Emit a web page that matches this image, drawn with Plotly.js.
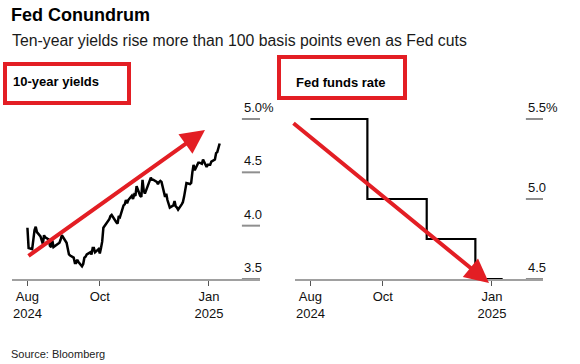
<!DOCTYPE html>
<html>
<head>
<meta charset="utf-8">
<script src="https://cdn.plot.ly/plotly-3.0.1.min.js"></script>
<style>html,body{margin:0;padding:0;background:#fff}#chart{width:580px;height:364px}</style>
</head>
<body>
<div id="chart"></div>
<script>
// ---- Data ----
const yieldDates = ['2024-08-01','2024-08-02','2024-08-05','2024-08-06','2024-08-07','2024-08-08','2024-08-09','2024-08-12','2024-08-13','2024-08-14','2024-08-15','2024-08-16','2024-08-19','2024-08-20','2024-08-21','2024-08-22','2024-08-23','2024-08-26','2024-08-27','2024-08-28','2024-08-29','2024-08-30','2024-09-03','2024-09-04','2024-09-05','2024-09-06','2024-09-09','2024-09-10','2024-09-11','2024-09-12','2024-09-13','2024-09-16','2024-09-17','2024-09-18','2024-09-19','2024-09-20','2024-09-23','2024-09-24','2024-09-25','2024-09-26','2024-09-27','2024-09-30','2024-10-01','2024-10-02','2024-10-03','2024-10-04','2024-10-07','2024-10-08','2024-10-09','2024-10-10','2024-10-11','2024-10-15','2024-10-16','2024-10-17','2024-10-18','2024-10-21','2024-10-22','2024-10-23','2024-10-24','2024-10-25','2024-10-28','2024-10-29','2024-10-30','2024-10-31','2024-11-01','2024-11-04','2024-11-05','2024-11-06','2024-11-07','2024-11-08','2024-11-12','2024-11-13','2024-11-14','2024-11-15','2024-11-18','2024-11-19','2024-11-20','2024-11-21','2024-11-22','2024-11-25','2024-11-26','2024-11-27','2024-11-29','2024-12-02','2024-12-03','2024-12-04','2024-12-05','2024-12-06','2024-12-09','2024-12-10','2024-12-11','2024-12-12','2024-12-13','2024-12-16','2024-12-17','2024-12-18','2024-12-19','2024-12-20','2024-12-23','2024-12-24','2024-12-26','2024-12-27','2024-12-30','2024-12-31','2025-01-02','2025-01-03','2025-01-06','2025-01-07','2025-01-08','2025-01-10'];
const yieldValues = [3.98,3.79,3.78,3.90,3.96,3.99,3.94,3.90,3.85,3.83,3.91,3.89,3.87,3.81,3.80,3.86,3.80,3.82,3.83,3.84,3.87,3.91,3.84,3.77,3.73,3.72,3.70,3.65,3.65,3.68,3.66,3.62,3.64,3.70,3.71,3.73,3.75,3.73,3.79,3.79,3.75,3.78,3.74,3.79,3.85,3.98,4.03,4.04,4.06,4.09,4.10,4.03,4.02,4.09,4.08,4.19,4.20,4.24,4.21,4.24,4.28,4.25,4.29,4.28,4.37,4.28,4.27,4.43,4.33,4.30,4.43,4.45,4.43,4.43,4.41,4.39,4.41,4.42,4.41,4.27,4.30,4.24,4.17,4.19,4.23,4.18,4.17,4.15,4.20,4.22,4.27,4.32,4.40,4.39,4.40,4.50,4.57,4.52,4.59,4.59,4.58,4.62,4.55,4.57,4.57,4.60,4.62,4.68,4.69,4.77];

const fedDates = ['2024-08-01','2024-09-18','2024-11-07','2024-12-18','2025-01-10'];
const fedValues = [5.5, 5.0, 4.75, 4.5, 4.5];

const xTickVals = ['2024-08-01','2024-10-01','2025-01-01'];
const xTickText = ['Aug<br>2024','Oct','Jan<br>2025'];

const leftTickVals = [3.5, 4.0, 4.5, 5.0];
const leftTickText = ['3.5','4.0','4.5','5.0%'];
const rightTickVals = [4.5, 5.0, 5.5];
const rightTickText = ['4.5','5.0','5.5%'];

const titleText = 'Fed Conundrum';
const subtitleText = 'Ten-year yields rise more than 100 basis points even as Fed cuts';
const leftPanelTitle = '10-year yields';
const rightPanelTitle = 'Fed funds rate';
const sourceText = 'Source: Bloomberg';

// ---- Layout helpers ----
const W = 580, H = 364;
const px = v => v / W;
const py = v => 1 - v / H;
const FONT = 'Liberation Sans, Arial, Helvetica, sans-serif';
const RED = '#e31e24';
const GRID = '#8f8f8f';

const xRange = ['2024-07-19','2025-02-13'];
const yDomain = [py(279), py(105)];

const commonX = {
  type: 'date', range: xRange, showgrid: false, zeroline: false,
  showline: true, linecolor: '#a0a0a0', linewidth: 1.5,
  ticks: 'outside', ticklen: 5, tickwidth: 1, tickcolor: '#555',
  tickvals: xTickVals, ticktext: xTickText,
  tickfont: {family: FONT, size: 13, color: '#111'},
  fixedrange: true
};
const commonY = {showgrid: false, zeroline: false, showline: false, showticklabels: false, ticks: '', fixedrange: true, domain: yDomain};

const traces = [
  {x: yieldDates, y: yieldValues, type: 'scatter', mode: 'lines', xaxis: 'x', yaxis: 'y',
   line: {color: '#000', width: 2.5}, hoverinfo: 'skip'},
  {x: fedDates, y: fedValues, type: 'scatter', mode: 'lines', xaxis: 'x2', yaxis: 'y2',
   line: {color: '#000', width: 2.2, shape: 'hv'}, hoverinfo: 'skip'}
];

const shapes = [];
const annotations = [];

// gridline stubs + labels
function addTicks(vals, texts, xr, yr, x0) {
  vals.forEach((v, i) => {
    shapes.push({type: 'line', xref: xr + ' domain', yref: yr, x0: x0, x1: 1, y0: v, y1: v,
      line: {color: GRID, width: 2}});
    annotations.push({xref: xr + ' domain', yref: yr, x: x0, y: v, xanchor: 'left', yanchor: 'bottom',
      yshift: 2, showarrow: false, text: texts[i], font: {family: FONT, size: 13, color: '#111'}});
  });
}
addTicks(leftTickVals, leftTickText, 'x', 'y', 0.927);
addTicks(rightTickVals, rightTickText, 'x2', 'y2', 0.931);

// red boxes
shapes.push({type: 'rect', xref: 'paper', yref: 'paper', x0: px(5), x1: px(129), y0: py(103), y1: py(64),
  line: {color: RED, width: 4}});
shapes.push({type: 'rect', xref: 'paper', yref: 'paper', x0: px(279), x1: px(405), y0: py(98), y1: py(57),
  line: {color: RED, width: 4}});

// panel titles
annotations.push({xref: 'paper', yref: 'paper', x: px(11), y: py(82), xanchor: 'left', yanchor: 'middle',
  showarrow: false, text: '<b>' + leftPanelTitle + '</b>', font: {family: FONT, size: 13, color: '#000'}});
annotations.push({xref: 'paper', yref: 'paper', x: px(294), y: py(83), xanchor: 'left', yanchor: 'middle',
  showarrow: false, text: '<b>' + rightPanelTitle + '</b>', font: {family: FONT, size: 13, color: '#000'}});

// subtitle & source
annotations.push({xref: 'paper', yref: 'paper', x: px(10), y: py(40), xanchor: 'left', yanchor: 'middle',
  showarrow: false, text: subtitleText, font: {family: FONT, size: 15.8, color: '#1a1a1a'}});
annotations.push({xref: 'paper', yref: 'paper', x: px(9), y: py(354), xanchor: 'left', yanchor: 'middle',
  showarrow: false, text: sourceText, font: {family: FONT, size: 11, color: '#222'}});

// red arrows
annotations.push({xref: 'paper', yref: 'paper', x: px(205), y: py(130), ax: 27 - 205, ay: 257 - 130,
  text: '', showarrow: true, arrowhead: 2, arrowsize: 1.2, arrowwidth: 4, arrowcolor: RED, standoff: 0});
annotations.push({xref: 'paper', yref: 'paper', x: px(489), y: py(283), ax: 292 - 489, ay: 122 - 283,
  text: '', showarrow: true, arrowhead: 2, arrowsize: 1.2, arrowwidth: 4, arrowcolor: RED, standoff: 0});

const layout = {
  width: W, height: H,
  margin: {l: 0, r: 0, t: 0, b: 0, pad: 0},
  paper_bgcolor: '#fff', plot_bgcolor: '#fff',
  showlegend: false,
  title: {text: '<b>' + titleText + '</b>', x: px(11), xanchor: 'left', y: py(15), yanchor: 'middle',
    font: {family: FONT, size: 18, color: '#000'}},
  xaxis: Object.assign({}, commonX, {domain: [px(12), px(260)], anchor: 'y'}),
  yaxis: Object.assign({}, commonY, {range: [3.5, 3.5 + 174 / 106.67], anchor: 'x'}),
  xaxis2: Object.assign({}, commonX, {domain: [px(295), px(543)], anchor: 'y2'}),
  yaxis2: Object.assign({}, commonY, {range: [4.5, 4.5 + 174 / 160], anchor: 'x2'}),
  shapes: shapes,
  annotations: annotations,
  font: {family: FONT}
};

Plotly.newPlot('chart', traces, layout, {staticPlot: true, displayModeBar: false});
</script>
</body>
</html>
